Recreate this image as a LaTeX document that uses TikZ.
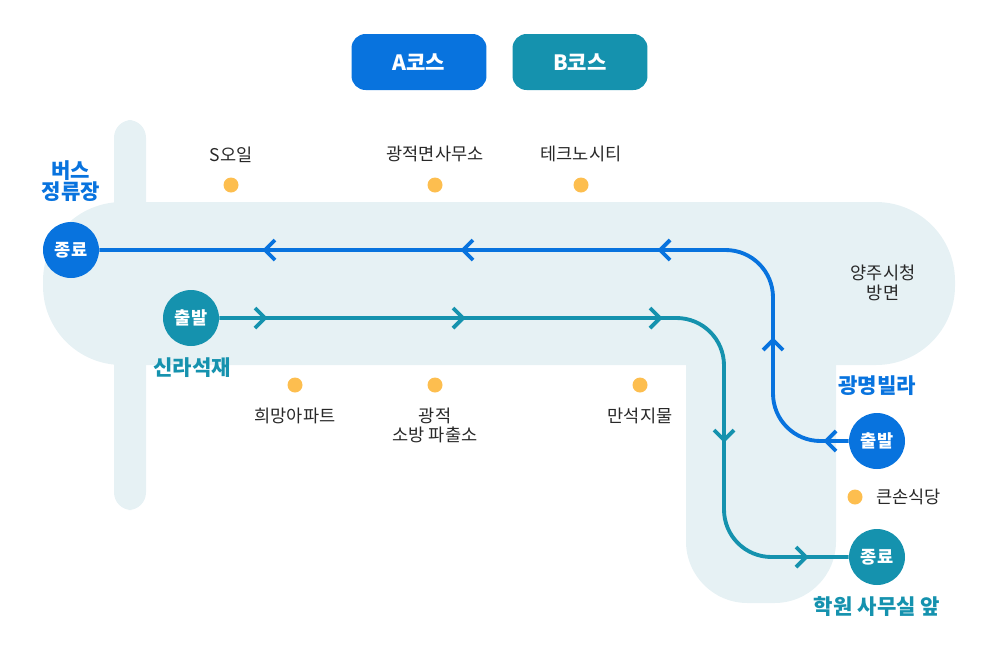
\documentclass[tikz,border=0pt]{standalone}
\usepackage{fontspec}
\setmainfont{Noto Sans CJK KR}
\usetikzlibrary{positioning,calc}
\definecolor{blueA}{RGB}{8,115,222}
\definecolor{tealB}{RGB}{21,146,174}
\definecolor{bgpale}{RGB}{230,241,244}
\definecolor{stopdot}{RGB}{253,190,79}
\definecolor{txt}{RGB}{40,40,40}
\tikzset{
  course/.style={rounded corners=8pt,minimum width=2.7cm,minimum height=1.12cm,text=white,font=\bfseries\fontsize{12}{14}\selectfont},
  terminal/.style={circle,minimum size=1.12cm,inner sep=0pt,text=white,font=\bfseries\fontsize{10}{12}\selectfont},
  stop/.style={circle,fill=stopdot,minimum size=0.3cm,inner sep=0pt},
  stoplabel/.style={text=txt,font=\fontsize{10}{14}\selectfont,align=center},
  place/.style={font=\bfseries\fontsize{12}{15}\selectfont,align=center},
  route/.style={line width=2.2pt},
  chev/.style={line width=2.2pt}
}
\begin{document}
\begin{tikzpicture}[x=0.02cm,y=-0.02cm]
  \useasboundingbox (0,0) rectangle (1000,650);

  % background areas
  \fill[bgpale,rounded corners=10pt] (114,120) rectangle (146,510);
  \fill[bgpale,rounded corners=45pt] (43,202) rectangle (955,365);
  \fill[bgpale,rounded corners=35pt] (686,300) rectangle (836,603);

  % course buttons
  \node[course,fill=blueA] (courseA) at (419,62) {A코스};
  \node[course,fill=tealB] (courseB) at (580,62) {B코스};

  % terminals
  \node[terminal,fill=blueA] (endA) at (71,250) {종료};
  \node[terminal,fill=blueA] (startA) at (877,441) {출발};
  \node[terminal,fill=tealB] (startB) at (191,318) {출발};
  \node[terminal,fill=tealB] (endB) at (877,557) {종료};

  % routes
  \draw[route,blueA,rounded corners=27pt] (startA.west) -| (773,250) -- (endA.east);
  \draw[route,tealB,rounded corners=27pt] (startB.east) -- (724,318) |- (endB.west);

  % direction marks
  \foreach \x in {265,463,660}{
    \draw[chev,blueA] (\x+10,240) -- (\x,250) -- (\x+10,260);
    \draw[chev,tealB] (\x-10,308) -- (\x,318) -- (\x-10,328);
  }
  \draw[chev,blueA] (763,350) -- (773,340) -- (783,350);
  \draw[chev,blueA] (836,431) -- (826,441) -- (836,451);
  \draw[chev,tealB] (714,430) -- (724,440) -- (734,430);
  \draw[chev,tealB] (796,547) -- (806,557) -- (796,567);

  % place names
  \node[place,blueA] (busstop) at (71,181) {버스\\[-3pt]정류장};
  \node[place,tealB] (silla) at (192,368) {신라석재};
  \node[place,blueA] (villa) at (877,386) {광명빌라};
  \node[place,tealB] (academy) at (877,607) {학원 사무실 앞};

  % stops
  \node[stop] (s1) at (231,185) {};
  \node[stoplabel,above=5pt of s1] {S오일};
  \node[stop] (s2) at (435,185) {};
  \node[stoplabel,above=5pt of s2] {광적면사무소};
  \node[stop] (s3) at (581,185) {};
  \node[stoplabel,above=5pt of s3] {테크노시티};
  \node[stop] (s4) at (295,385) {};
  \node[stoplabel,below=5pt of s4] {희망아파트};
  \node[stop] (s5) at (435,385) {};
  \node[stoplabel,below=5pt of s5] {광적\\[-3pt]소방 파출소};
  \node[stop] (s6) at (640,385) {};
  \node[stoplabel,below=5pt of s6] {만석지물};
  \node[stop] (s7) at (855,497) {};
  \node[stoplabel,right=4pt of s7] {큰손식당};
  \node[stoplabel] (yangju) at (883,283) {양주시청\\[-3pt]방면};
\end{tikzpicture}
\end{document}
